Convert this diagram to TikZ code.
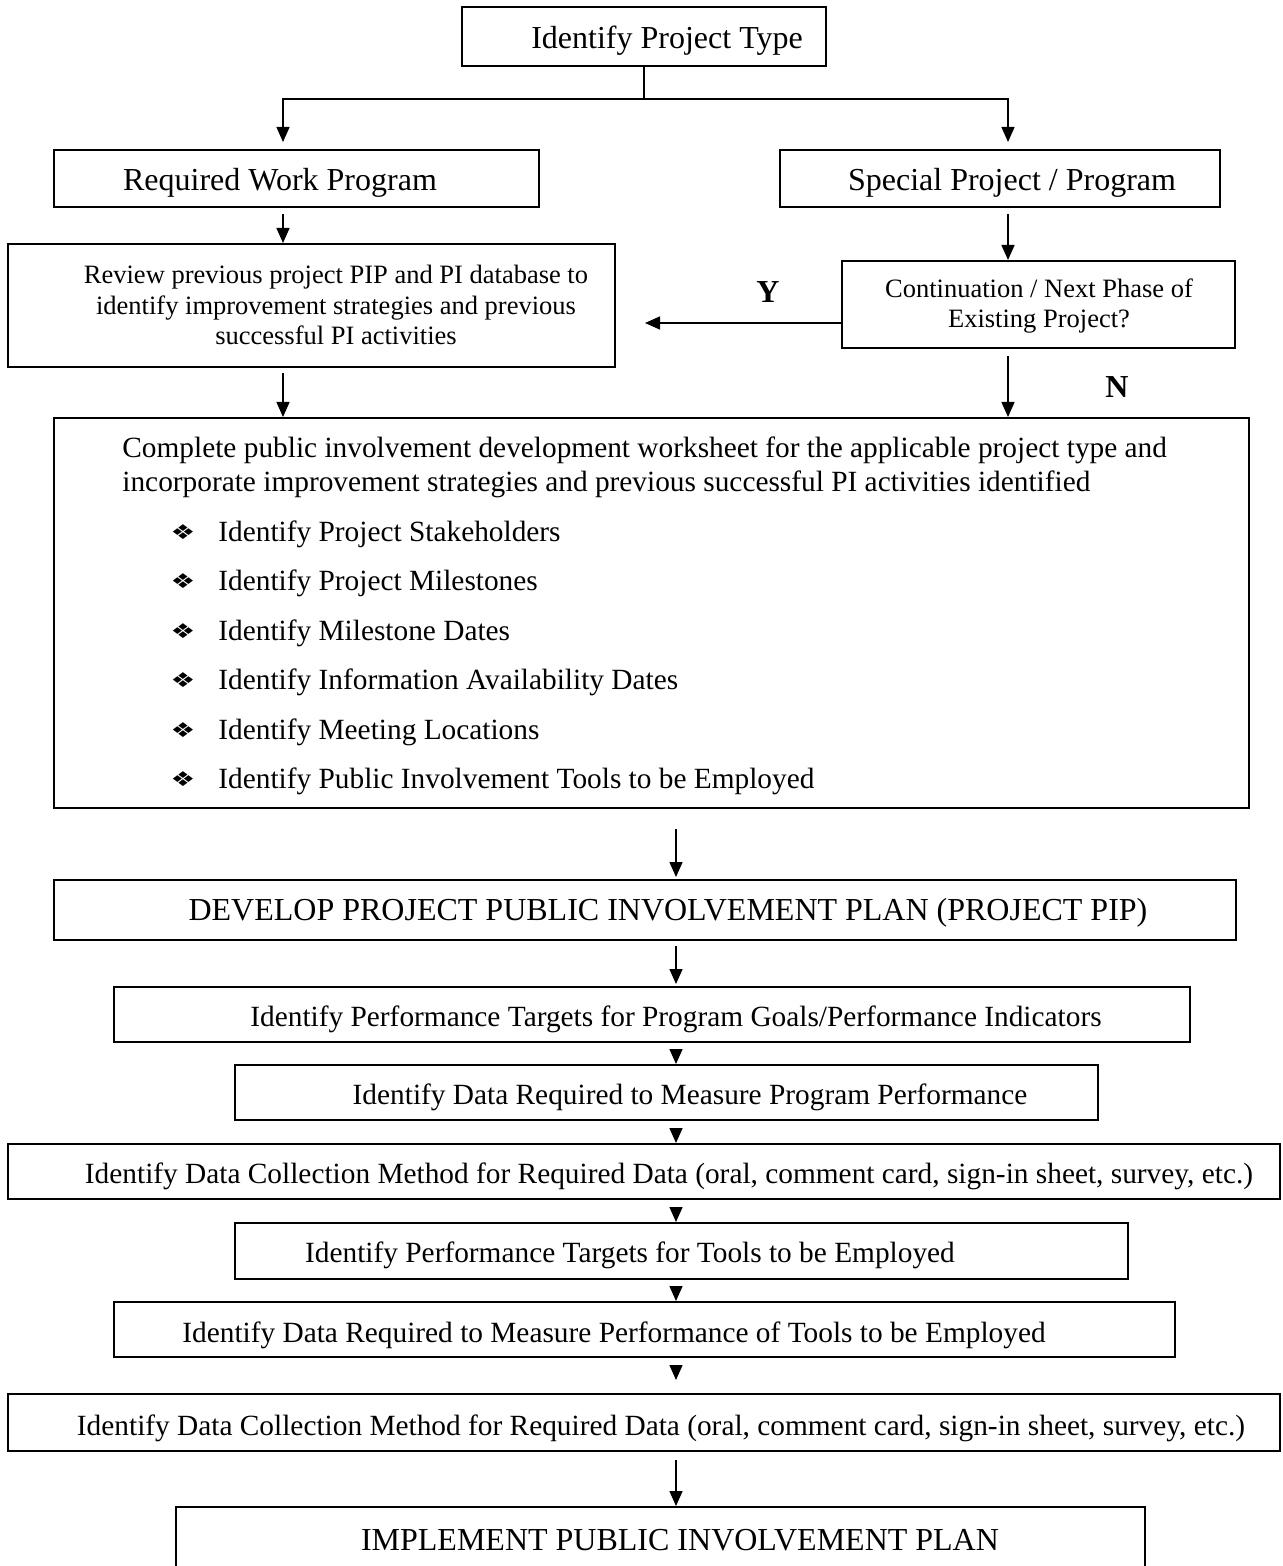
\documentclass[tikz,border=0pt]{standalone}
\usepackage{fontspec}
\setmainfont{Liberation Serif}
\newfontfamily\dejavu{DejaVu Sans}
\usetikzlibrary{arrows.meta}
\newcommand\rbox[5]{\node[box,minimum width={0.5pt*(#4-#2)},minimum height={0.5pt*(#5-#3)}] (#1) at ({(#2+#4)/2},{(#3+#5)/2}) {};}
\begin{document}
\begin{tikzpicture}[x=0.5pt,y=-0.5pt,
  box/.style={draw, line width=1pt, inner sep=0pt},
  arr/.style={line width=0.75pt, -{Triangle[width=6.5pt,length=7.5pt]}},
  ln/.style={line width=0.75pt},
  bigt/.style={font=\fontsize{16}{19}\selectfont, inner sep=0pt},
  midt/.style={font=\fontsize{13.25}{15.4}\selectfont, align=center, inner sep=0pt},
  bodyt/.style={font=\fontsize{14.67}{17}\selectfont, inner sep=0pt},
  bul/.style={font=\dejavu\fontsize{12}{12}\selectfont, inner sep=0pt},
  lbl/.style={font=\fontsize{16}{19}\selectfont\bfseries, inner sep=0pt}]
\useasboundingbox (0,0) rectangle (1282,1566);
\fill[white] (0,0) rectangle (1282,1566);

% boxes
\rbox{top}{462}{7}{826}{66}
\rbox{req}{54}{150}{539}{207}
\rbox{spec}{780}{150}{1220}{207}
\rbox{rev}{8}{244}{615}{367}
\rbox{cont}{842}{261}{1235}{348}
\rbox{bigbox}{54}{418}{1249}{808}
\rbox{dev}{54}{880}{1236}{940}
\rbox{b1}{114}{987}{1190}{1042}
\rbox{b2}{235}{1065}{1098}{1120}
\rbox{b3}{8}{1144}{1280}{1199}
\rbox{b4}{235}{1223}{1128}{1279}
\rbox{b5}{114}{1302}{1175}{1357}
\rbox{b6}{8}{1394}{1280}{1451}
\rbox{b7}{176}{1507}{1145}{1572}

% texts
\node[bigt] (t-top) at (667,41) {Identify Project Type};
\node[bigt] (t-req) at (280,183) {Required Work Program};
\node[bigt] (t-spec) at (1012,183) {Special Project / Program};
\node[midt] (t-rev) at (336,305) {Review previous project PIP and PI database to\\identify improvement strategies and previous\\successful PI activities};
\node[midt] (t-cont) at (1039,306) {Continuation / Next Phase of\\Existing Project?};
\node[lbl] (t-y) at (768,292) {Y};
\node[lbl] (t-n) at (1117,387) {N};
\node[bodyt, anchor=west] (t-c1) at (122,450) {Complete public involvement development worksheet for the applicable project type and};
\node[bodyt, anchor=west] (t-c2) at (122,484) {incorporate improvement strategies and previous successful PI activities identified};
\foreach \yy/\tt [count=\i] in {531/Identify Project Stakeholders, 580/Identify Project Milestones, 630/Identify Milestone Dates, 679/Identify Information Availability Dates, 729/Identify Meeting Locations, 778/Identify Public Involvement Tools to be Employed}{
  \node[bul] (bu\i) at (183,\yy+1) {\scalebox{1.15}[0.85]{❖}};
  \node[bodyt, anchor=west] (bt\i) at (218,\yy+3) {\tt};
}
\node[bigt] (t-dev) at (668,913) {DEVELOP PROJECT PUBLIC INVOLVEMENT PLAN (PROJECT PIP)};
\node[bodyt] (t-b1) at (676,1019) {Identify Performance Targets for Program Goals/Performance Indicators};
\node[bodyt] (t-b2) at (690,1097) {Identify Data Required to Measure Program Performance};
\node[bodyt] (t-b3) at (669,1176) {Identify Data Collection Method for Required Data (oral, comment card, sign-in sheet, survey, etc.)};
\node[bodyt] (t-b4) at (630,1255) {Identify Performance Targets for Tools to be Employed};
\node[bodyt] (t-b5) at (614,1335) {Identify Data Required to Measure Performance of Tools to be Employed};
\node[bodyt] (t-b6) at (661,1428) {Identify Data Collection Method for Required Data (oral, comment card, sign-in sheet, survey, etc.)};
\node[bigt] (t-b7) at (680,1540) {IMPLEMENT PUBLIC INVOLVEMENT PLAN};

% connectors
\coordinate (xl) at (283,0);
\coordinate (xr) at (1008,0);
\coordinate (xc) at (676,0);
\coordinate (j) at (644,99);
\coordinate (yend) at (645,323);
\draw[ln] (top.south) -- (j);
\draw[arr, shorten >=3.5pt] (j) -| (req.north -| xl);
\draw[arr, shorten >=3.5pt] (j) -| (spec.north -| xr);
\draw[arr, shorten <=3pt] (req.south -| xl) -- (rev.north -| xl);
\draw[arr, shorten <=3pt] (spec.south -| xr) -- (cont.north -| xr);
\draw[arr] (cont.west |- yend) -- (yend);
\draw[arr, shorten <=3.5pt] (cont.south -| xr) -- (bigbox.north -| xr);
\draw[arr, shorten <=2.5pt] (rev.south -| xl) -- (bigbox.north -| xl);
\draw[arr, shorten <=10pt, shorten >=1pt] (bigbox.south -| xc) -- (dev.north -| xc);
\draw[arr, shorten <=2.5pt, shorten >=1pt] (dev.south -| xc) -- (b1.north -| xc);
\draw[arr, shorten <=4pt] (b1.south -| xc) -- (b2.north -| xc);
\draw[arr, shorten <=4.5pt] (b2.south -| xc) -- (b3.north -| xc);
\draw[arr, shorten <=4.5pt] (b3.south -| xc) -- (b4.north -| xc);
\draw[arr, shorten <=4pt] (b4.south -| xc) -- (b5.north -| xc);
\draw[arr, shorten <=5pt, shorten >=6.5pt] (b5.south -| xc) -- (b6.north -| xc);
\draw[arr, shorten <=4pt] (b6.south -| xc) -- (b7.north -| xc);
\end{tikzpicture}
\end{document}
